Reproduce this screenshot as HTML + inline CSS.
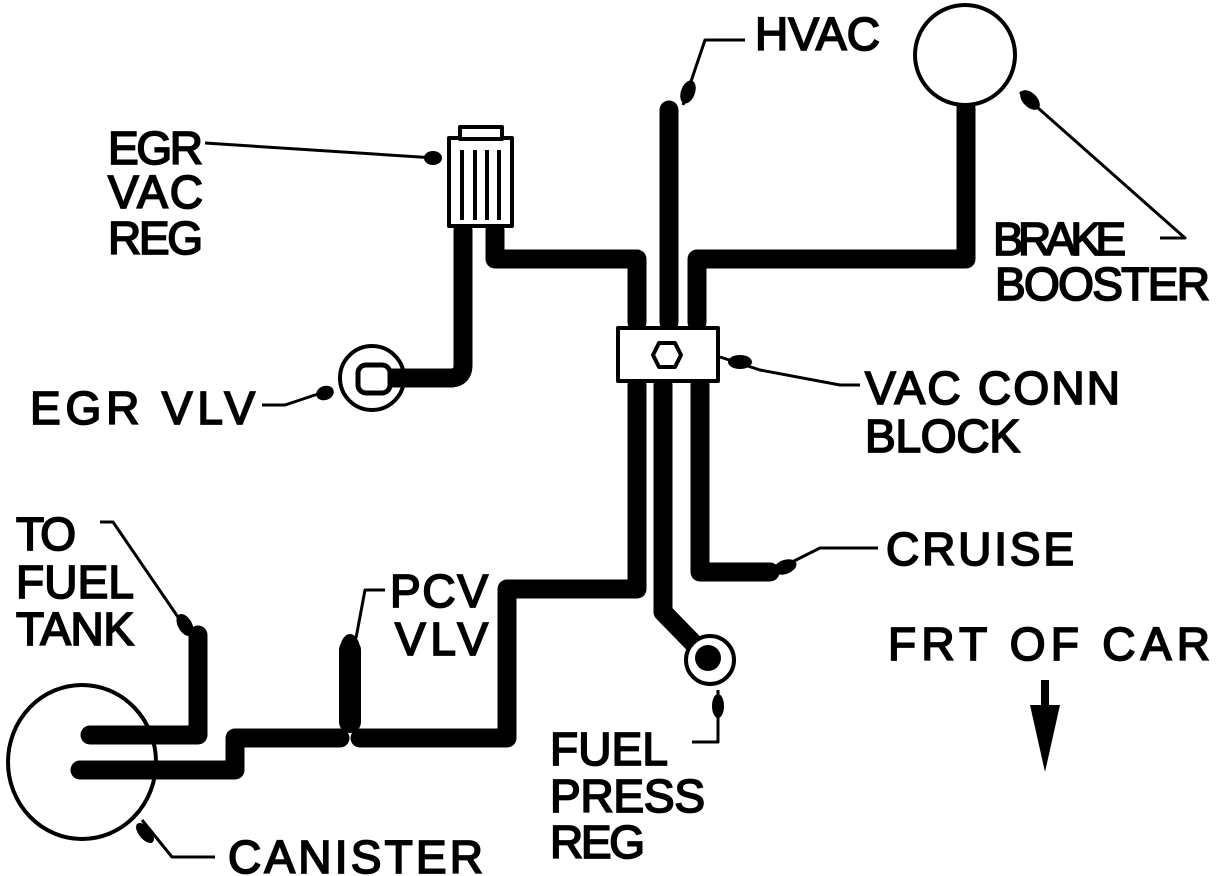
<!DOCTYPE html>
<html><head><style>
html,body{margin:0;padding:0;background:#fff}
svg{display:block}
text{font-family:"Liberation Sans",sans-serif;font-size:46px;fill:#000;stroke:#000;stroke-width:1.8}
</style></head><body>
<svg width="1216" height="876" viewBox="0 0 1216 876" xmlns="http://www.w3.org/2000/svg">
<g fill="none" stroke="#000" stroke-linejoin="round">
<g stroke-width="19" stroke-linecap="round">
<path d="M463 230 V365 Q463 378 450 378 H400"/>
<path d="M495 230 V259 H637 V322"/>
<path d="M669 110 V322"/>
<path d="M697 322 V259 H966 V108"/>
<path d="M637 385 V589 H507 V738 H360"/>
<path d="M340 738 H235 V770 H80"/>
<path d="M663 385 V612 L700 650"/>
<path d="M700 385 V572 H770"/>
<path d="M90 735 H198 V635"/>
</g>
<path d="M350 650 V722" stroke-width="22" stroke-linecap="round"/>
<rect x="449" y="138" width="63" height="88" stroke-width="4" fill="#fff"/>
<rect x="460" y="127" width="42" height="12" stroke-width="4" fill="#fff"/>
<g stroke-width="4"><line x1="462" y1="150" x2="462" y2="220"/><line x1="475" y1="150" x2="475" y2="220"/><line x1="487" y1="150" x2="487" y2="220"/><line x1="499" y1="150" x2="499" y2="220"/></g>
<circle cx="372" cy="378" r="32" stroke-width="4" fill="#fff"/>
<rect x="358" y="365" width="32" height="28" rx="8" stroke-width="5" fill="#fff"/>
<path d="M390 378 H410" stroke-width="19"/>
<rect x="618" y="328" width="100" height="53" stroke-width="4" fill="#fff"/>
<polygon points="653,355 659,343 675,343 681,355 675,367 659,367" stroke-width="4"/>
<circle cx="965" cy="55" r="50" stroke-width="4" fill="#fff"/>
<ellipse cx="82" cy="762" rx="74" ry="77" stroke-width="4"/>
<circle cx="710" cy="660" r="24" stroke-width="4" fill="#fff"/>
<circle cx="708" cy="658" r="13" fill="#000" stroke="none"/>
<g stroke-width="3">
<path d="M205 143 L435 158"/>
<path d="M262 405 H285 L330 390"/>
<path d="M683 105 L705 40 H745"/>
<path d="M1020 92 L1185 238 H1160" />
<path d="M720 357 L760 370 L840 385 H860"/>
<path d="M770 572 L790 563 L820 548 H878"/>
<path d="M718 690 V742 H692"/>
<path d="M100 522 H113 L180 620"/>
<path d="M356 638 L365 590 H385"/>
<path d="M142 820 L172 857 H215"/>
</g>
</g>
<g fill="#000">
<ellipse cx="433" cy="158" rx="9" ry="7"/>
<ellipse cx="325" cy="393" rx="9" ry="7" transform="rotate(-20 325 393)"/>
<ellipse cx="688" cy="92" rx="7" ry="12" transform="rotate(20 688 92)"/>
<ellipse cx="1030" cy="100" rx="7" ry="12" transform="rotate(-45 1030 100)"/>
<ellipse cx="740" cy="362" rx="12" ry="7"/>
<ellipse cx="785" cy="567" rx="12" ry="7" transform="rotate(-20 785 567)"/>
<ellipse cx="718" cy="706" rx="6" ry="12"/>
<ellipse cx="185" cy="625" rx="7" ry="12" transform="rotate(-30 185 625)"/>
<ellipse cx="350" cy="650" rx="10" ry="16"/>
<ellipse cx="145" cy="833" rx="6" ry="12" transform="rotate(-40 145 833)"/>
<rect x="1041" y="680" width="8" height="30"/>
<polygon points="1030,705 1060,705 1045,772"/>
</g>
<text x="755" y="50" textLength="125">HVAC</text>
<text x="108" y="164" textLength="95">EGR</text>
<text x="108" y="208" textLength="95">VAC</text>
<text x="108" y="254" textLength="95">REG</text>
<text x="993" y="255" textLength="133">BRAKE</text>
<text x="995" y="300" textLength="215">BOOSTER</text>
<text x="865" y="404" textLength="255">VAC CONN</text>
<text x="865" y="452" textLength="155">BLOCK</text>
<text x="30" y="424" textLength="225">EGR VLV</text>
<text x="886" y="565" textLength="188">CRUISE</text>
<text x="888" y="660" textLength="322">FRT OF CAR</text>
<text x="16" y="550" textLength="60">TO</text>
<text x="16" y="598" textLength="118">FUEL</text>
<text x="16" y="645" textLength="118">TANK</text>
<text x="390" y="607" textLength="98">PCV</text>
<text x="395" y="655" textLength="93">VLV</text>
<text x="550" y="765" textLength="118">FUEL</text>
<text x="550" y="812" textLength="155">PRESS</text>
<text x="550" y="858" textLength="95">REG</text>
<text x="228" y="873" textLength="255">CANISTER</text>
</svg>
</body></html>
